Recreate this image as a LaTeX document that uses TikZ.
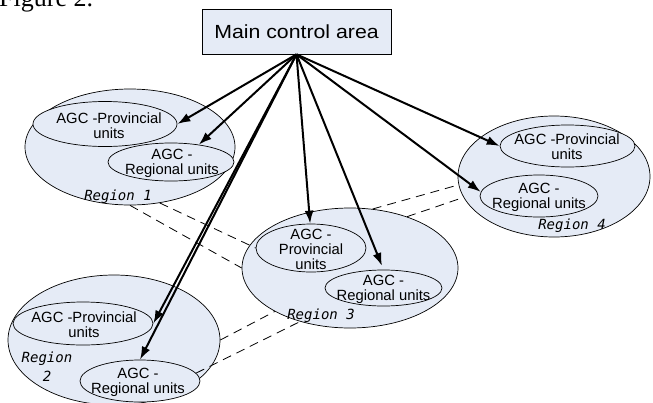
\documentclass[tikz,border=0pt]{standalone}
\usepackage{fontspec}
\setmainfont{Liberation Sans}
\newfontfamily\figfont{Liberation Serif}
\newfontfamily\boxfont[FakeStretch=1.12]{Liberation Sans}
\newfontfamily\regfont{DejaVu Sans Mono}
\usetikzlibrary{shapes.geometric,arrows.meta}
\definecolor{areafill}{HTML}{E5EBF6}
\tikzset{
  region/.style={ellipse, draw, fill=areafill, inner sep=0pt, line width=0.7pt},
  unit/.style={ellipse, draw, fill=areafill, inner sep=0pt, line width=0.7pt},
  utext/.style={inner sep=0pt, align=center, font=\fontsize{14.8}{15}\selectfont},
  rlabel/.style={inner sep=0pt, align=center, font=\regfont\itshape\fontsize{14}{19}\selectfont},
  mainbox/.style={draw, fill=areafill, line width=0.7pt, minimum width=189pt, minimum height=45pt, inner sep=0pt, font=\boxfont\fontsize{19}{22}\selectfont},
  feed/.style={line width=2pt, -{Latex[length=13pt,width=9pt]}},
  link/.style={line width=0.8pt, dash pattern=on 9pt off 6pt}
}
\begin{document}
\begin{tikzpicture}[x=1pt,y=-1pt]
\useasboundingbox (0,0) rectangle (653,402);
\node[anchor=base west, inner sep=0pt, font=\figfont\fontsize{26}{26}\selectfont] (fig) at (-1,6) {Figure 2.};
% main box
\node[mainbox] (main) at (296.5,31.5) {Main control area};
% outer regions
\node[region, minimum width=210pt, minimum height=116pt] (R1) at (130,147) {};
\node[region, minimum width=212pt, minimum height=130pt] (R2) at (114,340) {};
\node[region, minimum width=216pt, minimum height=120pt] (R3) at (350,268) {};
\node[region, minimum width=192pt, minimum height=121pt] (R4) at (554,176.5) {};
% inner units
\node[unit, minimum width=144pt, minimum height=45pt] (p1) at (105,124) {};
\node[utext] (p1t) at (109,126) {AGC -Provincial\\units};
\node[unit, minimum width=126pt, minimum height=38pt] (r1) at (171,162) {};
\node[utext] (r1t) at (172,163) {AGC -\\Regional units};
\node[unit, minimum width=140pt, minimum height=43pt] (p2) at (83,323.5) {};
\node[utext] (p2t) at (84,325) {AGC -Provincial\\units};
\node[unit, minimum width=120pt, minimum height=42pt] (r2) at (140,381) {};
\node[utext] (r2t) at (138,382) {AGC -\\Regional units};
\node[unit, minimum width=110pt, minimum height=48pt] (p3) at (311,248) {};
\node[utext] (p3t) at (311,249) {AGC -\\Provincial\\units};
\node[unit, minimum width=117pt, minimum height=36pt] (r3) at (383.5,288) {};
\node[utext] (r3t) at (383.5,289) {AGC -\\Regional units};
\node[unit, minimum width=135pt, minimum height=42pt] (p4) at (567.5,146) {};
\node[utext] (p4t) at (567,147) {AGC -Provincial\\units};
\node[unit, minimum width=118pt, minimum height=42pt] (r4) at (539,196) {};
\node[utext] (r4t) at (539,197) {AGC -\\Regional units};
% region labels
\node[rlabel] (l1) at (118,197) {Region 1};
\node[rlabel] (l2) at (47,367) {Region\\2};
\node[rlabel] (l3) at (321,316) {Region 3};
\node[rlabel] (l4) at (572,226) {Region 4};
% dashed links
\draw[link] (R1.-62) -- (p3.west);
\draw[link] (R1.south) -- (R3.west);
\draw[link] (R2.east) -- (R3.210);
\draw[link] (r2.8) -- (R3.227);
\draw[link] (R3.69) -- (R4.185);
\draw[link] (R3.42) -- (R4.193);
% arrows
\draw[feed] (main.south) -- (p1.east);
\draw[feed] (main.south) -- (r1.32);
\draw[feed] (main.south) -- (p4.west);
\draw[feed] (main.south) -- (r4.176);
\draw[feed] (main.south) -- (p3.92);
\draw[feed, shorten >=4pt] (main.south) -- (r3.north);
\draw[feed] (main.south) -- (p2.east);
\draw[feed] (main.south) -- (r2.north);
\end{tikzpicture}
\end{document}
